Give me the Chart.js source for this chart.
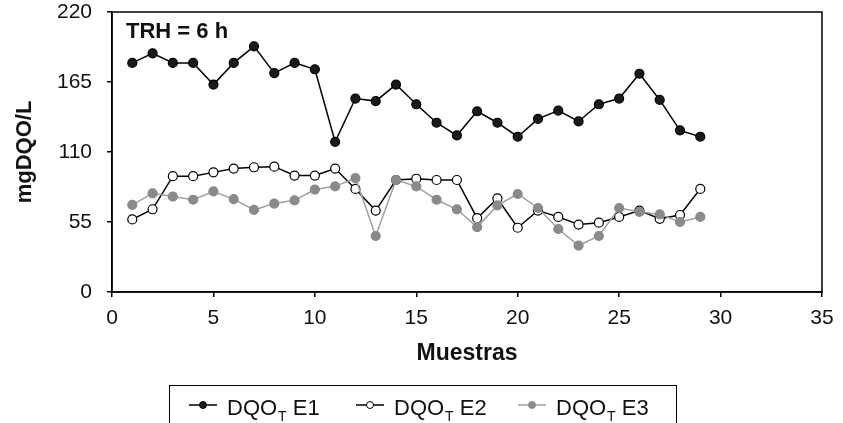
<!DOCTYPE html>
<html>
<head>
<meta charset="utf-8">
<script src="https://cdn.jsdelivr.net/npm/chart.js@4.4.1/dist/chart.umd.min.js"></script>
<style>
  html, body { margin: 0; padding: 0; background: #fff; }
  #wrap { width: 843px; height: 423px; position: relative; }
</style>
</head>
<body>
<div id="wrap"><canvas id="c" width="843" height="423"></canvas></div>
<script>
// ---- Data ----
const samples = [1,2,3,4,5,6,7,8,9,10,11,12,13,14,15,16,17,18,19,20,21,22,23,24,25,26,27,28,29];
const dqoE1 = [180,187.5,180,180,163,180,193,172,180,175,118,152,150,163,147.5,133,123,142,133,122,136,142.5,134,147.5,152,171.5,151,127,122];
const dqoE2 = [57,65,91,91,94,97,98,98.5,91.5,91.5,97,81,64,88,89,88,88,58,73.5,50.5,64,59,53,54.5,59,64,57.5,60.5,81];
const dqoE3 = [68.5,77.5,75,72.5,79,73,64.5,69.5,72,80.5,83,89.5,44,88,83,72.5,65,51,68,77,66,49.5,36.5,44,66,63,61,55,59];
const xTicks = [0,5,10,15,20,25,30,35];
const yTicks = [0,55,110,165,220];
const seriesNames = ['E1','E2','E3'];
const annotationText = 'TRH = 6 h';
const xTitle = 'Muestras';
const yTitle = 'mgDQO/L';

const FONT = "'Liberation Sans', Arial, Helvetica, sans-serif";
const toPts = arr => samples.map((s, i) => ({x: s, y: arr[i]}));

const styles = [
  {line: '#000000', fill: '#1a1a1a', border: '#000000'},
  {line: '#000000', fill: '#ffffff', border: '#000000'},
  {line: '#a0a0a0', fill: '#8a8a8a', border: '#8a8a8a'}
];

const boxPlugin = {
  id: 'boxAndText',
  beforeDatasetsDraw(chart) {
    const {ctx, chartArea: a} = chart;
    ctx.save();
    ctx.strokeStyle = '#000';
    ctx.lineWidth = 1.5;
    ctx.strokeRect(a.left, a.top, a.right - a.left, a.bottom - a.top);
    ctx.restore();
  },
  afterDraw(chart) {
    const {ctx, chartArea: a} = chart;
    ctx.save();
    // annotation
    ctx.fillStyle = '#111';
    ctx.font = "bold 22px " + FONT;
    ctx.textBaseline = 'alphabetic';
    ctx.textAlign = 'left';
    ctx.fillText(annotationText, a.left + 14, 38);

    // legend box
    ctx.strokeStyle = '#000';
    ctx.lineWidth = 1;
    ctx.strokeRect(169.5, 385.5, 507, 60);
    const starts = [189, 356, 518];
    const ly = 405;
    seriesNames.forEach((nm, i) => {
      const st = styles[i];
      const x0 = starts[i];
      ctx.strokeStyle = st.line;
      ctx.lineWidth = 1.5;
      ctx.beginPath(); ctx.moveTo(x0, ly); ctx.lineTo(x0 + 28, ly); ctx.stroke();
      ctx.beginPath(); ctx.arc(x0 + 14, ly, 3.5, 0, Math.PI * 2);
      ctx.fillStyle = st.fill; ctx.fill();
      ctx.strokeStyle = st.border; ctx.lineWidth = 1; ctx.stroke();
      // text
      let tx = x0 + 38;
      ctx.fillStyle = '#111';
      ctx.font = "22px " + FONT;
      ctx.textBaseline = 'alphabetic';
      ctx.fillText('DQO', tx, 415);
      tx += ctx.measureText('DQO').width + 1;
      ctx.font = "14px " + FONT;
      ctx.fillText('T', tx, 421);
      tx += ctx.measureText('T').width;
      ctx.font = "22px " + FONT;
      ctx.fillText(' ' + nm, tx, 415);
    });
    ctx.restore();
  }
};

const ds = [dqoE1, dqoE2, dqoE3].map((arr, i) => ({
  label: 'DQOT ' + seriesNames[i],
  data: toPts(arr),
  borderColor: styles[i].line,
  borderWidth: 1.5,
  pointRadius: 4.5,
  pointHoverRadius: 4.5,
  pointBackgroundColor: styles[i].fill,
  pointBorderColor: styles[i].border,
  pointBorderWidth: 1.2,
  tension: 0,
  fill: false,
  order: 2 - i
}));

new Chart(document.getElementById('c'), {
  type: 'line',
  data: { datasets: ds },
  options: {
    responsive: false,
    animation: false,
    devicePixelRatio: 1,
    layout: { padding: { left: 0, right: 21, top: 12, bottom: 0 } },
    plugins: { legend: { display: false }, tooltip: { enabled: false } },
    scales: {
      x: {
        type: 'linear', min: 0, max: 35,
        afterBuildTicks: s => { s.ticks = xTicks.map(v => ({value: v})); },
        afterFit: s => { s.height = 131; s.paddingLeft = 0; s.paddingRight = 0; },
        grid: { display: true, drawOnChartArea: false, drawTicks: true, tickLength: 5, color: '#000', lineWidth: 1.5 },
        border: { display: true, color: '#000', width: 1.5 },
        ticks: { color: '#111', font: { family: FONT, size: 21 }, padding: 9, maxRotation: 0 },
        title: { display: true, text: xTitle, color: '#111', font: { family: FONT, size: 23, weight: 'bold' }, padding: { top: 0, bottom: 56 } }
      },
      y: {
        type: 'linear', min: 0, max: 220,
        afterBuildTicks: s => { s.ticks = yTicks.map(v => ({value: v})); },
        afterFit: s => { s.width = 112; s.paddingTop = 0; s.paddingBottom = 0; },
        grid: { display: true, drawOnChartArea: false, drawTicks: true, tickLength: 5, color: '#000', lineWidth: 1.5 },
        border: { display: true, color: '#000', width: 1.5 },
        ticks: { color: '#111', font: { family: FONT, size: 21 }, padding: 15 },
        title: { display: true, text: yTitle, color: '#111', font: { family: FONT, size: 22, weight: 'bold' }, padding: { top: 12, bottom: 0 } }
      }
    }
  },
  plugins: [boxPlugin]
});
</script>
</body>
</html>
